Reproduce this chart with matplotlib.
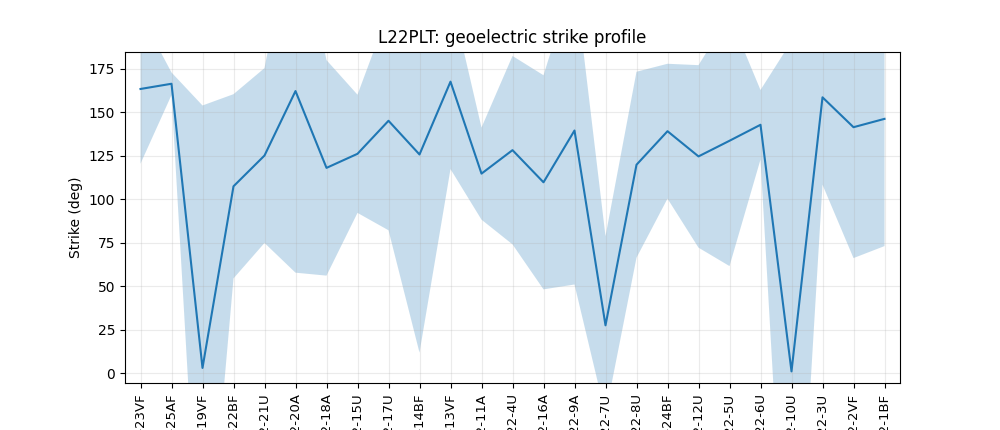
import matplotlib
matplotlib.use("Agg")
import matplotlib.pyplot as plt
import numpy as np

stations = ["L22-23VF", "L22-25AF", "L22-19VF", "L22-22BF", "L22-21U", "L22-20A",
            "L22-18A", "L22-15U", "L22-17U", "L22-14BF", "L22-13VF", "L22-11A",
            "L22-4U", "L22-16A", "L22-9A", "L22-7U", "L22-8U", "L22-24BF",
            "L22-12U", "L22-5U", "L22-6U", "L22-10U", "L22-3U", "L22-2VF", "L22-1BF"]
strike = [163.5, 166.5, 3.0, 107.5, 125.2, 162.3, 118.1, 126.2, 145.2, 125.8,
          167.7, 114.8, 128.3, 109.8, 139.6, 27.5, 119.9, 139.2, 124.7, 133.7,
          142.9, 1.0, 158.7, 141.5, 146.3]
strike_err = [43.0, 6.5, 151.0, 53.0, 50.3, 104.5, 62.0, 34.0, 63.0, 114.0,
              50.3, 26.5, 54.2, 61.6, 88.6, 51.3, 53.5, 38.8, 52.5, 72.1,
              20.0, 190.0, 50.3, 75.3, 73.2]

x = np.arange(len(stations))
s = np.array(strike)
e = np.array(strike_err)

fig, ax = plt.subplots(figsize=(10, 4.3), dpi=100)
ax.fill_between(x, s - e, s + e, color="#1f77b4", alpha=0.25, linewidth=0)
ax.plot(x, s, color="#1f77b4", linewidth=1.5)
ax.set_xticks(x)
ax.set_xticklabels(stations, rotation=90, fontsize=9.5)
ax.set_xlim(-0.5, len(stations) - 0.5)
ax.set_ylim(-5.5, 185)
ax.set_yticks(np.arange(0, 176, 25))
ax.set_ylabel("Strike (deg)")
ax.set_title("L22PLT: geoelectric strike profile")
ax.grid(True, alpha=0.25)
fig.savefig("out.png")
